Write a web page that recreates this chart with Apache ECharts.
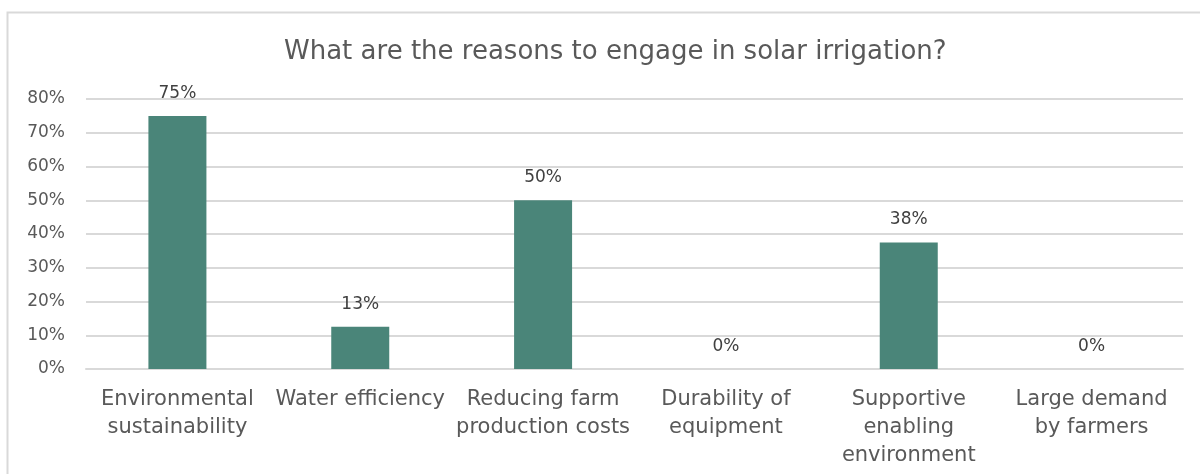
<!DOCTYPE html>
<html>
<head>
<meta charset="utf-8">
<script src="https://cdn.jsdelivr.net/npm/echarts@6/dist/echarts.min.js"></script>
<style>
  html, body { margin: 0; padding: 0; background: #fff; }
  #chart { width: 1200px; height: 474px; }
</style>
</head>
<body>
<div id="chart"></div>
<script>
// categories + values
const categories = [
  "Environmental\nsustainability",
  "Water efficiency",
  "Reducing farm\nproduction costs",
  "Durability of\nequipment",
  "Supportive\nenabling\nenvironment",
  "Large demand\nby farmers"
];
const shares = [0.75, 0.125, 0.5, 0, 0.375, 0];
const yTicks = [0, 0.1, 0.2, 0.3, 0.4, 0.5, 0.6, 0.7, 0.8];

const font = "DejaVu Sans";
const textColor = "#595959";

const chart = echarts.init(document.getElementById("chart"));

let option = {
  animation: false,
  backgroundColor: "#fff",
  textStyle: { fontFamily: font },
  title: {
    text: "What are the reasons to engage in solar irrigation?",
    left: 279,
    top: 34,
    textStyle: {
      fontFamily: font,
      fontSize: 26,
      fontWeight: "normal",
      color: textColor
    }
  },
  graphic: [
    {
      type: "rect",
      shape: { x: 7.5, y: 12.5, width: 1300, height: 600 },
      style: { fill: "none", stroke: "#d9d9d9", lineWidth: 2 },
      silent: true
    }
  ],
  grid: {
    left: 86,
    right: 17,
    top: 99,
    bottom: 105
  },
  xAxis: {
    type: "category",
    data: categories,
    axisLine: { lineStyle: { color: "#d9d9d9", width: 2 } },
    axisTick: { show: false },
    axisLabel: {
      color: textColor,
      fontSize: 21,
      lineHeight: 28,
      margin: 17,
      interval: 0
    }
  },
  yAxis: {
    type: "value",
    min: 0,
    max: yTicks[yTicks.length - 1],
    interval: 0.1,
    axisLine: { show: false },
    axisTick: { show: false },
    splitLine: { lineStyle: { color: "#d9d9d9", width: 2 } },
    axisLabel: {
      color: textColor,
      fontSize: 17,
      margin: 21,
      formatter: v => Math.round(v * 100) + "%"
    }
  },
  series: [
    {
      type: "bar",
      data: shares,
      barWidth: 58,
      itemStyle: { color: "#4a8579" },
      label: {
        show: true,
        position: "top",
        distance: 14,
        color: "#404040",
        fontSize: 17,
        formatter: p => Math.round(p.value * 100) + "%"
      }
    }
  ]
};

chart.setOption(option);
</script>
</body>
</html>
